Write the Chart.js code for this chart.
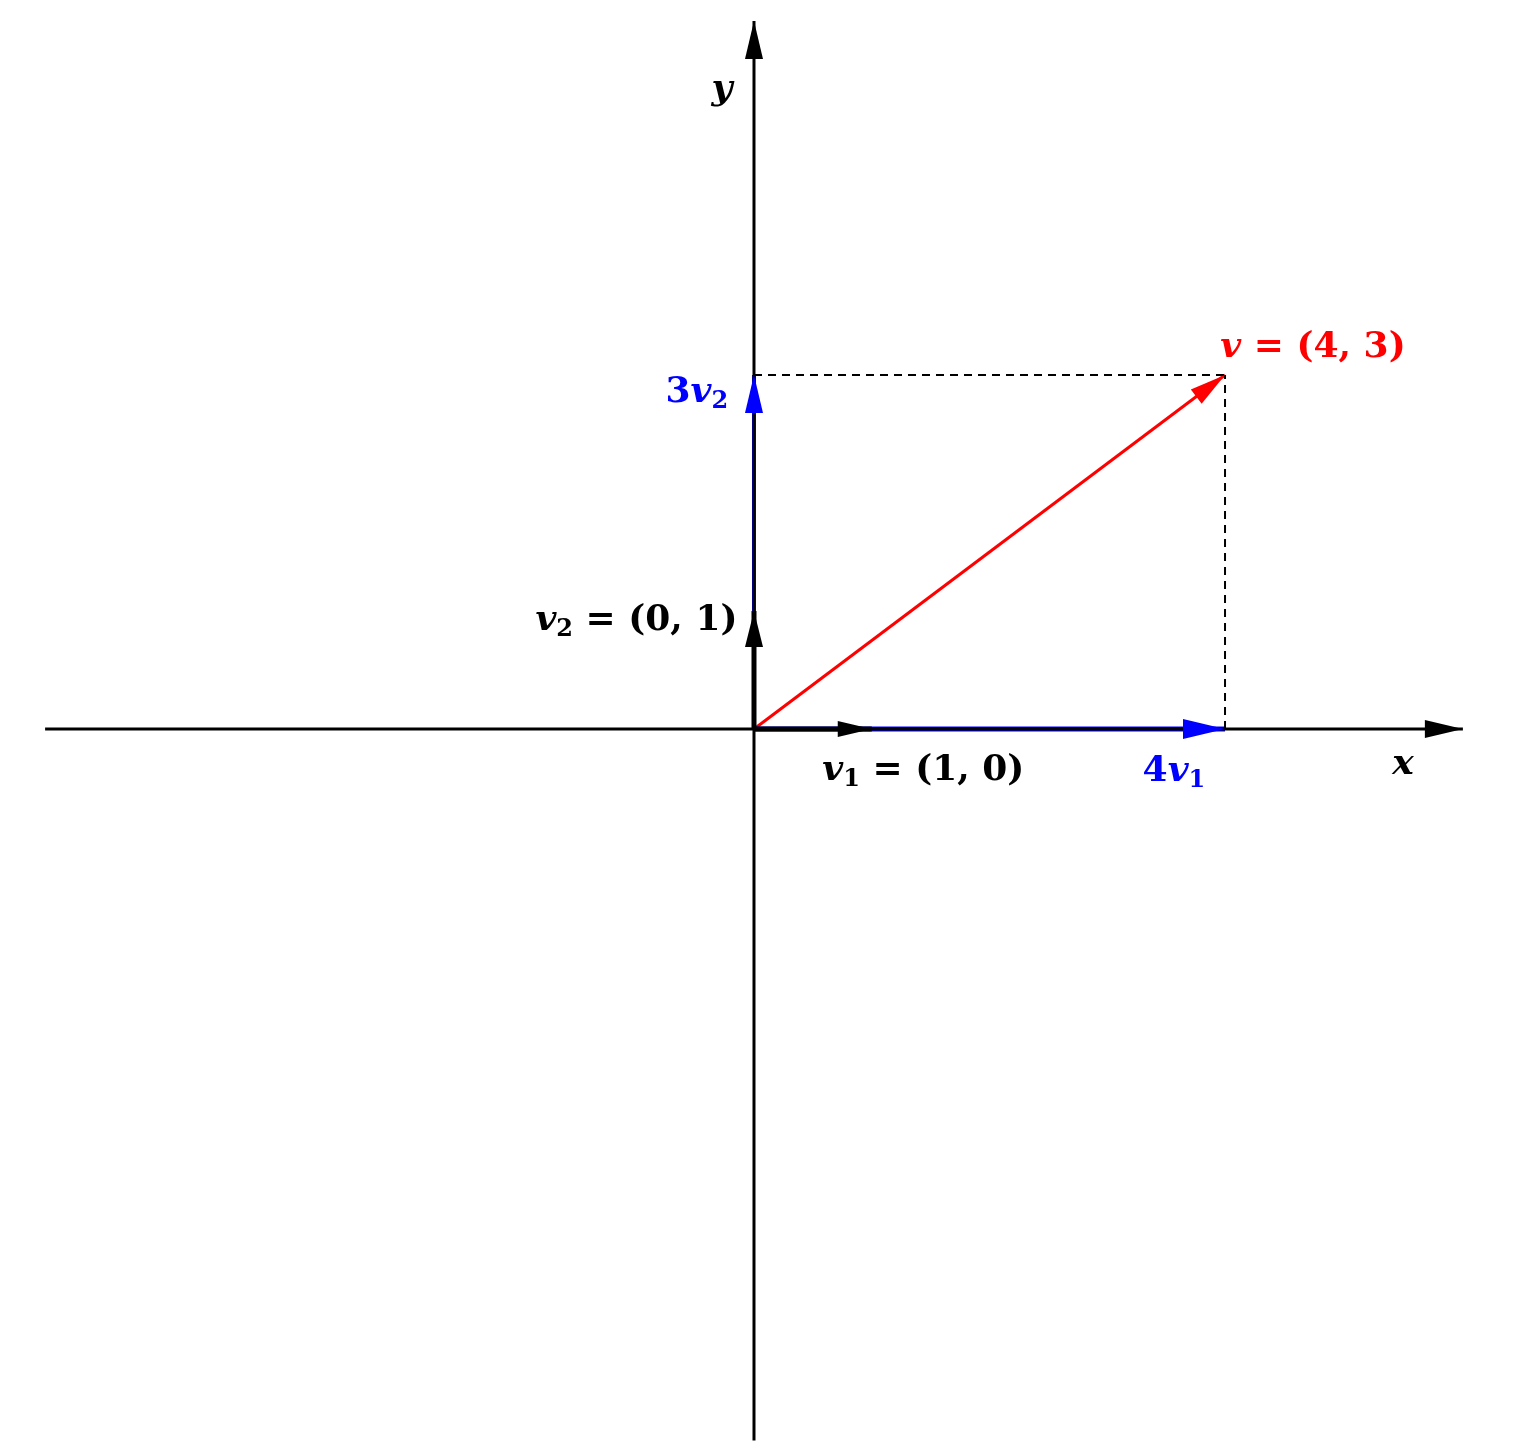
<!DOCTYPE html>
<html>
<head>
<meta charset="utf-8">
<script src="https://cdn.jsdelivr.net/npm/chart.js@4/dist/chart.umd.min.js"></script>
<style>
  html, body { margin: 0; padding: 0; background: #fff; }
  #wrap { width: 1518px; height: 1454px; }
</style>
</head>
<body>
<div id="wrap"><canvas id="chart"></canvas></div>
<script>
// axes and vectors, in plot units
const xAxis = [{ x: -6.02, y: 0 }, { x: 6.02, y: 0 }];
const yAxis = [{ x: 0, y: -6.03 }, { x: 0, y: 6.0 }];
const v = [{ x: 0, y: 0 }, { x: 4, y: 3 }];
const v1 = [{ x: 0, y: 0 }, { x: 1, y: 0 }];
const v2 = [{ x: 0, y: 0 }, { x: 0, y: 1 }];
const fourV1 = [{ x: 0, y: 0 }, { x: 4, y: 0 }];
const threeV2 = [{ x: 0, y: 0 }, { x: 0, y: 3 }];
const dashH = [{ x: 0, y: 3 }, { x: 4, y: 3 }];
const dashV = [{ x: 4, y: 0 }, { x: 4, y: 3 }];

// labels: parts are [text, style] with style "i" italic, "s" subscript, "" upright
const labels = [
  { x: -0.36, y: 5.42, align: "left", color: "#000", parts: [["y", "i"]] },
  { x: 5.42, y: -0.3, align: "left", color: "#000", parts: [["x", "i"]] },
  { x: 3.96, y: 3.23, align: "left", color: "#ff0000", parts: [["v", "i"], [" = (4, 3)", ""]] },
  { x: -0.22, y: 2.85, align: "right", color: "#0000ff", parts: [["3", ""], ["v", "i"], ["2", "s"]] },
  { x: -0.14, y: 0.92, align: "right", color: "#000", parts: [["v", "i"], ["2", "s"], [" = (0, 1)", ""]] },
  { x: 0.58, y: -0.35, align: "left", color: "#000", parts: [["v", "i"], ["1", "s"], [" = (1, 0)", ""]] },
  { x: 3.30, y: -0.36, align: "left", color: "#0000ff", parts: [["4", ""], ["v", "i"], ["1", "s"]] },
];

function line(data, color, width, arrow, head, dash) {
  return {
    data: data, borderColor: color, borderWidth: width, showLine: true,
    pointRadius: 0, borderDash: dash || [], arrow: arrow, head: head || [36, 9],
  };
}

const fontFor = (st) =>
  st === "s" ? "bold 24px 'DejaVu Serif'" :
  st === "i" ? "bold italic 36px 'DejaVu Serif'" : "bold 36px 'DejaVu Serif'";

const arrows = {
  id: "arrows",
  afterDatasetsDraw(chart) {
    const ctx = chart.ctx;
    const sx = chart.scales.x, sy = chart.scales.y;
    chart.data.datasets.forEach((ds) => {
      if (!ds.arrow) return;
      const a = ds.data[ds.data.length - 2], b = ds.data[ds.data.length - 1];
      const x0 = sx.getPixelForValue(a.x), y0 = sy.getPixelForValue(a.y);
      const x1 = sx.getPixelForValue(b.x), y1 = sy.getPixelForValue(b.y);
      const ang = Math.atan2(y1 - y0, x1 - x0);
      const [len, half] = ds.head;
      ctx.save();
      ctx.translate(x1, y1);
      ctx.rotate(ang);
      ctx.beginPath();
      ctx.moveTo(0, 0);
      ctx.lineTo(-len, -half);
      ctx.lineTo(-len, half);
      ctx.closePath();
      ctx.fillStyle = ds.borderColor;
      ctx.fill();
      ctx.restore();
    });
    ctx.save();
    ctx.textBaseline = "middle";
    labels.forEach((l) => {
      let total = 0;
      l.parts.forEach(([t, st]) => { ctx.font = fontFor(st); total += ctx.measureText(t).width; });
      let px = sx.getPixelForValue(l.x) - (l.align === "right" ? total : 0);
      const py = sy.getPixelForValue(l.y);
      ctx.fillStyle = l.color;
      l.parts.forEach(([t, st]) => {
        ctx.font = fontFor(st);
        ctx.fillText(t, px, st === "s" ? py + 9 : py);
        px += ctx.measureText(t).width;
      });
    });
    ctx.restore();
  },
};

new Chart(document.getElementById("chart"), {
  type: "scatter",
  data: {
    datasets: [
      line(dashH, "#000", 2, false, null, [8, 6]),
      line(dashV, "#000", 2, false, null, [8, 6]),
      line(xAxis, "#000", 3, true, [38, 9]),
      line(yAxis, "#000", 3, true, [38, 9]),
      line(v1, "#000", 5, true, [34, 8]),
      line(v2, "#000", 5, true, [36, 9]),
      line(fourV1, "#0000ff", 5, true, [42, 10]),
      line(threeV2, "#0000ff", 4, true, [38, 9]),
      line(v, "#ff0000", 3, true, [36, 9]),
    ],
  },
  options: {
    responsive: true,
    maintainAspectRatio: false,
    animation: false,
    layout: { padding: 0 },
    plugins: { legend: { display: false }, tooltip: { enabled: false } },
    scales: {
      x: { type: "linear", min: -6.403, max: 6.488, display: false },
      y: { type: "linear", min: -6.144, max: 6.178, display: false },
    },
  },
  plugins: [arrows],
});
</script>
</body>
</html>
